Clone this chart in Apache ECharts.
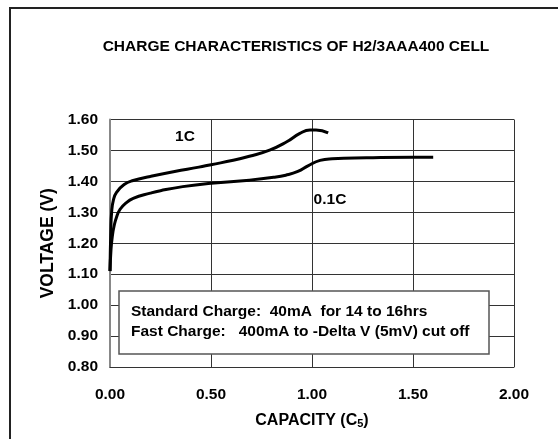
<!DOCTYPE html>
<html>
<head>
<meta charset="utf-8">
<script src="https://cdn.jsdelivr.net/npm/echarts@6/dist/echarts.min.js"></script>
<style>
  html, body { margin: 0; padding: 0; background: #fff; }
  #chart { width: 558px; height: 439px; }
</style>
</head>
<body>
<div id="chart"></div>
<script>
// charge curves: [capacity (C5), voltage (V)]
var fastCharge = [
  [0, 1.11], [0.004, 1.24], [0.008, 1.30], [0.017, 1.34], [0.033, 1.365],
  [0.07, 1.39], [0.115, 1.403], [0.2, 1.416], [0.32, 1.432], [0.44, 1.446],
  [0.5, 1.454], [0.61, 1.468], [0.69, 1.481], [0.79, 1.501], [0.875, 1.528],
  [0.94, 1.555], [0.99, 1.566], [1.02, 1.566], [1.08, 1.557]
];
var slowCharge = [
  [0, 1.11], [0.005, 1.18], [0.012, 1.225], [0.02, 1.255], [0.033, 1.286],
  [0.05, 1.31], [0.075, 1.328], [0.115, 1.345], [0.2, 1.362], [0.25, 1.37],
  [0.36, 1.383], [0.5, 1.394], [0.69, 1.404], [0.81, 1.413], [0.87, 1.42],
  [0.93, 1.432], [0.98, 1.45], [1.04, 1.468], [1.1, 1.473], [1.27, 1.476],
  [1.5, 1.478], [1.6, 1.478]
];
var seriesNames = ["1C", "0.1C"];
var seriesLabelAt = [[0.371, 1.543], [1.089, 1.340]];
var noteLines = [
  "Standard Charge:  40mA  for 14 to 16hrs",
  "Fast Charge:   400mA to -Delta V (5mV) cut off"
];

var font = "'Liberation Sans', Arial, sans-serif";
var chart = echarts.init(document.getElementById("chart"), null, { renderer: "canvas" });

function curve(name, data, labelAt) {
  return {
    name: name,
    type: "line",
    data: data,
    smooth: 0.5,
    showSymbol: false,
    lineStyle: { color: "#000", width: 3 },
    markPoint: {
      symbol: "circle",
      symbolSize: 0,
      silent: true,
      label: {
        show: true,
        position: "inside",
        formatter: name,
        color: "#000",
        fontFamily: font,
        fontWeight: "bold",
        fontSize: 15.5
      },
      data: [{ coord: labelAt }]
    }
  };
}

chart.setOption({
  animation: false,
  backgroundColor: "#fff",
  grid: { left: 110, top: 119.5, right: 44, bottom: 72 },
  xAxis: {
    type: "value",
    min: 0,
    max: 2,
    interval: 0.5,
    name: "{a|CAPACITY (C}{s|5}{a|)}",
    nameLocation: "middle",
    nameGap: 46,
    nameTextStyle: {
      rich: {
        a: { fontFamily: font, fontWeight: "bold", fontSize: 16, color: "#000" },
        s: { fontFamily: font, fontWeight: "bold", fontSize: 11, color: "#000", padding: [5, 0, 0, 0] }
      }
    },
    axisLine: { lineStyle: { color: "#333", width: 1 } },
    axisTick: { show: false },
    axisLabel: {
      margin: 20,
      color: "#000",
      fontFamily: font,
      fontWeight: "bold",
      fontSize: 15.5,
      formatter: function (v) { return v.toFixed(2); }
    },
    splitLine: { show: true, lineStyle: { color: "#333", width: 1 } }
  },
  yAxis: {
    type: "value",
    min: 0.8,
    max: 1.6,
    interval: 0.1,
    name: "VOLTAGE (V)",
    nameLocation: "middle",
    nameGap: 40,
    nameTextStyle: { fontFamily: font, fontWeight: "bold", fontSize: 17.5, color: "#000" },
    axisLine: { show: true, lineStyle: { color: "#888", width: 2 } },
    axisTick: { show: false },
    axisLabel: {
      margin: 12,
      color: "#000",
      fontFamily: font,
      fontWeight: "bold",
      fontSize: 15.5,
      formatter: function (v) { return v.toFixed(2); }
    },
    splitLine: { show: true, lineStyle: { color: "#333", width: 1 } }
  },
  series: [
    curve(seriesNames[0], fastCharge, seriesLabelAt[0]),
    curve(seriesNames[1], slowCharge, seriesLabelAt[1])
  ],
  graphic: [
    {
      type: "rect",
      silent: true,
      z: -1,
      shape: { x: 10, y: 8, width: 700, height: 600 },
      style: { fill: null, stroke: "#222", lineWidth: 2 }
    },
    {
      type: "text",
      silent: true,
      style: {
        x: 296, y: 47,
        text: "CHARGE CHARACTERISTICS OF H2/3AAA400 CELL",
        textAlign: "center",
        textVerticalAlign: "middle",
        fill: "#000",
        font: "bold 15.5px " + font
      }
    },
    {
      type: "rect",
      silent: true,
      z: 10,
      shape: { x: 119, y: 291, width: 370, height: 63 },
      style: { fill: "#fff", stroke: "#555", lineWidth: 1.5 }
    },
    {
      type: "text",
      silent: true,
      z: 11,
      style: {
        x: 131, y: 312,
        text: noteLines[0],
        textVerticalAlign: "middle",
        fill: "#000",
        font: "bold 15.5px " + font
      }
    },
    {
      type: "text",
      silent: true,
      z: 11,
      style: {
        x: 131, y: 332,
        text: noteLines[1],
        textVerticalAlign: "middle",
        fill: "#000",
        font: "bold 15.5px " + font
      }
    }
  ]
});
</script>
</body>
</html>
